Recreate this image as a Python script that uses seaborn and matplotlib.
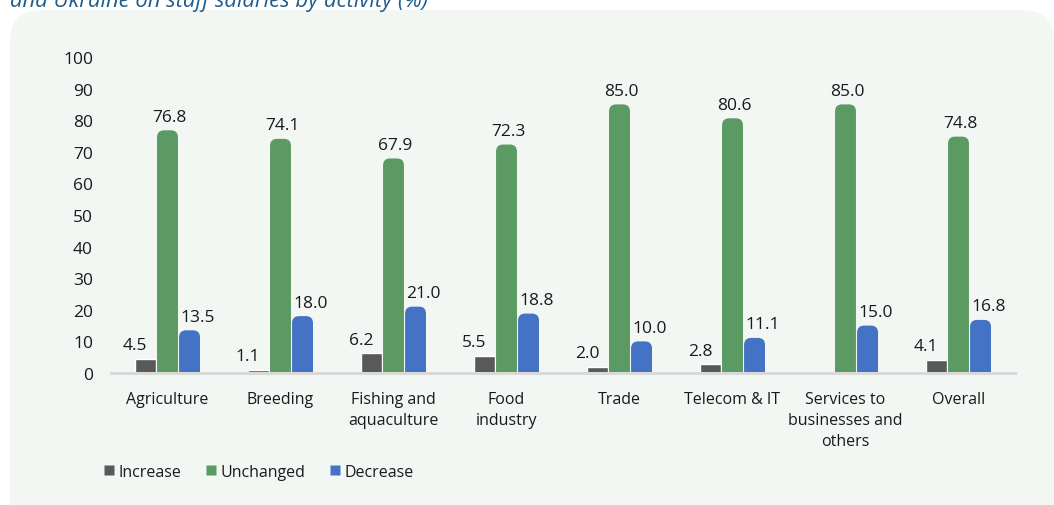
import numpy as np
import pandas as pd
import matplotlib
matplotlib.use("Agg")
import matplotlib.pyplot as plt
import seaborn as sns
from matplotlib.patches import FancyBboxPatch, Rectangle
from matplotlib.lines import Line2D

# ---- data -------------------------------------------------------------
activities = ["Agriculture", "Breeding", "Fishing and\naquaculture", "Food\nindustry",
              "Trade", "Telecom & IT", "Services to\nbusinesses and\nothers", "Overall"]
increase = [4.5, 1.1, 6.2, 5.5, 2.0, 2.8, np.nan, 4.1]
unchanged = [76.8, 74.1, 67.9, 72.3, 85.0, 80.6, 85.0, 74.8]
decrease = [13.5, 18.0, 21.0, 18.8, 10.0, 11.1, 15.0, 16.8]
series = ["Increase", "Unchanged", "Decrease"]
y_ticks = [0, 10, 20, 30, 40, 50, 60, 70, 80, 90, 100]
title = "and Ukraine on staff salaries by activity (%)"

colors = ["#595959", "#5B9A62", "#4472C4"]
panel_color = "#F3F7F4"
text_color = "#1A1A1A"

df = pd.DataFrame({"activity": activities, "Increase": increase,
                   "Unchanged": unchanged, "Decrease": decrease})
long_df = df.melt(id_vars="activity", var_name="series", value_name="value").dropna()

# ---- figure -----------------------------------------------------------
sns.set_theme(style="white")
plt.rcParams["font.family"] = ["Open Sans", "DejaVu Sans"]

W, H, DPI = 1054, 506, 100
fig = plt.figure(figsize=(W / DPI, H / DPI), dpi=DPI, facecolor="white")


def fx(px):
    return px / W


def fy(py):
    return 1 - py / H


# rounded background panel, open towards the bottom-right edge
rad = 32
panel = FancyBboxPatch((fx(10), fy(540)), fx(1054 - 10), (540 - 11) / H,
                       boxstyle=f"round,pad=0,rounding_size={rad / W}",
                       mutation_aspect=W / H,
                       transform=fig.transFigure, fc=panel_color, ec="none", zorder=-10)
fig.patches.append(panel)
fig.patches.append(Rectangle((fx(600), fy(506)), fx(454), 150 / H,
                             transform=fig.transFigure, fc=panel_color, ec="none",
                             zorder=-9))

fig.text(fx(10), fy(7.5), title, ha="left", va="baseline", fontsize=15.8,
         style="italic", color="#1F5C8C")

ax_l, ax_r, ax_t, ax_b = 111, 1015, 58, 374
ax = fig.add_axes([fx(ax_l), fy(ax_b), fx(ax_r - ax_l), (ax_b - ax_t) / H])
ax.set_facecolor("none")

sns.barplot(data=long_df, x="activity", y="value", hue="series",
            order=activities, hue_order=series, palette=colors,
            width=0.585, gap=0.05, saturation=1, legend=False, ax=ax)

ax.set_xlim(-0.5, len(activities) - 0.5)
ax.set_ylim(0, 100)
ax.set_yticks(y_ticks)
ax.set_xlabel("")
ax.set_ylabel("")

for s in ["top", "right", "left"]:
    ax.spines[s].set_visible(False)
ax.spines["bottom"].set_color("#D9D9D9")
ax.spines["bottom"].set_linewidth(2.2)

ax.tick_params(axis="y", length=0, pad=13, labelsize=12.5, labelcolor=text_color)
ax.tick_params(axis="x", length=0, pad=13, labelsize=11.5, labelcolor=text_color)
for lbl in ax.get_xticklabels():
    lbl.set_linespacing(1.4)

# round the tops of the Unchanged and Decrease bars
px_per_x = (ax_r - ax_l) / len(activities)
px_per_y = (ax_b - ax_t) / 100
r_px = 7
r_x = r_px / px_per_x
r_y = r_px / px_per_y
for ci, container in enumerate(ax.containers):
    if ci == 0:
        continue
    for bar in container:
        x0, _ = bar.get_xy()
        w, h = bar.get_width(), bar.get_height()
        bar.set_visible(False)
        rb = FancyBboxPatch((x0, -r_y), w, h + r_y,
                            boxstyle=f"round,pad=0,rounding_size={r_x}",
                            mutation_aspect=r_y / r_x,
                            fc=colors[ci], ec="none", zorder=2)
        ax.add_patch(rb)

# value labels, nudged sideways per series so they clear the neighbouring bars
label_shift_pt = [-7.5, 1.5, 6.0]
for ci, container in enumerate(ax.containers):
    anns = ax.bar_label(container, fmt="%.1f", padding=4, fontsize=12.5, color=text_color)
    for a in anns:
        a.xyann = (label_shift_pt[ci], a.xyann[1])

# legend
handles = [Line2D([], [], marker="s", linestyle="none", markersize=7,
                  markerfacecolor=c, markeredgecolor="none") for c in colors]
fig.legend(handles, series, loc="center left", bbox_to_anchor=(fx(103), fy(473)),
           ncol=3, frameon=False, fontsize=11.5, handlelength=0.7, handletextpad=0.25,
           columnspacing=1.5, borderpad=0, borderaxespad=0, labelcolor=text_color)

fig.savefig("out.png", dpi=DPI, facecolor="white")
